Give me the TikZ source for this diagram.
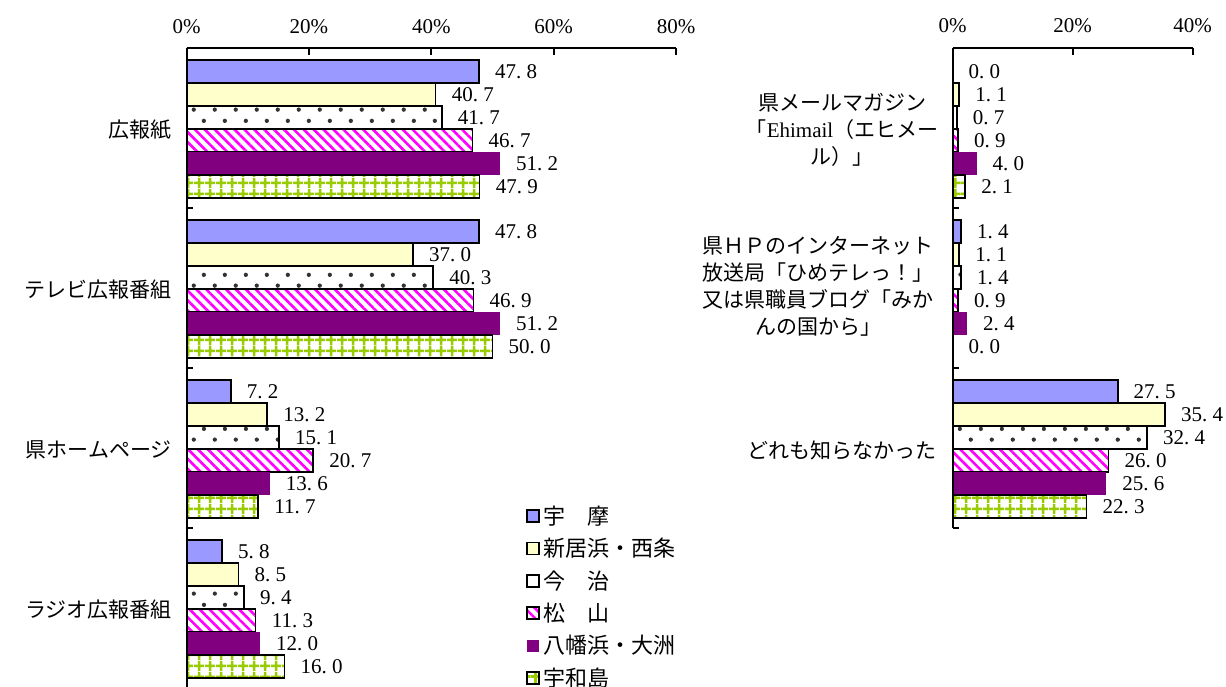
\documentclass[tikz,border=0pt]{standalone}
\usepackage{fontspec}
\usetikzlibrary{patterns.meta}
\newfontfamily\cjk{Noto Sans CJK JP}
\newfontfamily\numfont{Liberation Serif}
\definecolor{cA}{HTML}{9999FF}
\definecolor{cB}{HTML}{FFFFCC}
\definecolor{cD}{HTML}{FF00FF}
\definecolor{cE}{HTML}{800080}
\definecolor{cF}{HTML}{99CC00}
\def\splitnum#1.#2\relax{#1\makebox[.5em][l]{.}#2}
\tikzdeclarepattern{
  name=stagdots,
  type=uncolored,
  bounding box={(0pt,0pt) and (21pt,22pt)},
  tile size={(21pt,22pt)},
  code={
    \fill (5pt,5.5pt) circle (2.2pt);
    \fill (15.5pt,16.5pt) circle (2.2pt);
  }
}
\tikzset{
  bar0/.style={fill=cA, draw=black, line width=2pt},
  bar1/.style={fill=cB, draw=black, line width=1.6pt},
  bar2/.style={preaction={fill=white}, pattern=stagdots, pattern color=black!80, draw=black, line width=1.6pt},
  bar3/.style={preaction={fill=white}, pattern={Lines[angle=-45,distance=7pt,line width=2.6pt]}, pattern color=cD, draw=black, line width=1.6pt},
  bar4/.style={fill=cE},
  bar5/.style={preaction={fill=white}, pattern={Hatch[angle=0,distance=10.5pt,line width=2.6pt]}, pattern color=cF, draw=black, line width=1.6pt},
  val/.style={anchor=west, inner sep=0pt, font=\numfont\fontsize{21}{24}\selectfont},
  ticklab/.style={inner sep=0pt, font=\numfont\fontsize{21}{24}\selectfont},
  catlab/.style={inner sep=0pt, font=\cjk\fontsize{21}{27}\selectfont},
  leglab/.style={anchor=west, inner sep=0pt, font=\cjk\fontsize{22}{26}\selectfont},
  axisline/.style={draw=black, line width=2pt},
}
\begin{document}
\begin{tikzpicture}[x=1pt,y=-1pt]
\useasboundingbox (0,0) rectangle (1226,687);
% ---------------- left chart ----------------
\foreach \k/\vals in {0/{47.8,40.7,41.7,46.7,51.2,47.9},
                      1/{47.8,37.0,40.3,46.9,51.2,50.0},
                      2/{7.2,13.2,15.1,20.7,13.6,11.7},
                      3/{5.8,8.5,9.4,11.3,12.0,16.0}} {
  \foreach \v [count=\i from 0] in \vals {
    \pgfmathsetmacro\yt{48+160*\k+12+23*\i}
    \pgfmathsetmacro\xe{186.5+6.12*\v}
    \path[bar\i] (186.5,\yt) rectangle (\xe,\yt+23);
    \node[val] (LV\k\i) at (\xe+16,\yt+11.5) {\expandafter\splitnum\v\relax};
  }
}
\draw[axisline] (186.5,48) -- (676.1,48);
\draw[axisline] (186.5,48) -- (186.5,687);
\foreach \p [count=\j from 0] in {0,20,40,60,80} {
  \pgfmathsetmacro\xt{186.5+6.12*\p}
  \draw[axisline] (\xt,48) -- (\xt,55);
  \node[ticklab] (LT\j) at (\xt,27) {\p\%};
}
\foreach \yy in {208,368,528} \draw[axisline] (186.5,\yy) -- (193,\yy);
\node[catlab, anchor=east] (LC0) at (172,130) {広報紙};
\node[catlab, anchor=east] (LC1) at (172,290) {テレビ広報番組};
\node[catlab, anchor=east] (LC2) at (172,450) {県ホームページ};
\node[catlab, anchor=east] (LC3) at (172,610) {ラジオ広報番組};
% ---------------- right chart ----------------
\foreach \k/\vals in {0/{0.0,1.1,0.7,0.9,4.0,2.1},
                      1/{1.4,1.1,1.4,0.9,2.4,0.0},
                      2/{27.5,35.4,32.4,26.0,25.6,22.3}} {
  \foreach \v [count=\i from 0] in \vals {
    \pgfmathsetmacro\yt{48+160*\k+12+23*\i}
    \pgfmathsetmacro\xe{952.5+6.0*\v}
    \ifdim\v pt>0pt
      \path[bar\i] (952.5,\yt) rectangle (\xe,\yt+23);
    \fi
    \node[val] (RV\k\i) at (\xe+16,\yt+11.5) {\expandafter\splitnum\v\relax};
  }
}
\draw[axisline] (952.5,48) -- (1192.5,48);
\draw[axisline] (952.5,48) -- (952.5,528);
\foreach \p [count=\j from 0] in {0,20,40} {
  \pgfmathsetmacro\xt{952.5+6.0*\p}
  \draw[axisline] (\xt,48) -- (\xt,55);
  \node[ticklab] (RT\j) at (\xt,26) {\p\%};
}
\foreach \yy in {208,368,528} \draw[axisline] (952.5,\yy) -- (959,\yy);
\node[catlab, align=center] (RC0) at (842,130)
  {県メールマガジン\\「{\numfont Ehimail}（エヒメー\\ル）」};
\node[catlab, align=center] (RC1) at (818,286)
  {県ＨＰのインターネット\\放送局「ひめテレっ！」\\又は県職員ブログ「みか\\んの国から」};
\node[catlab, anchor=east] (RC2) at (937,450) {どれも知らなかった};
% ---------------- legend ----------------
\foreach \t [count=\i from 0] in {宇　摩,新居浜・西条,今　治,松　山,八幡浜・大洲,宇和島} {
  \pgfmathsetmacro\yl{516+32.4*\i}
  \path[bar\i, line width=1.6pt] (527,\yl-6) rectangle (539,\yl+6);
  \node[leglab] (LG\i) at (543,\yl) {\t};
}
\end{tikzpicture}
\end{document}
